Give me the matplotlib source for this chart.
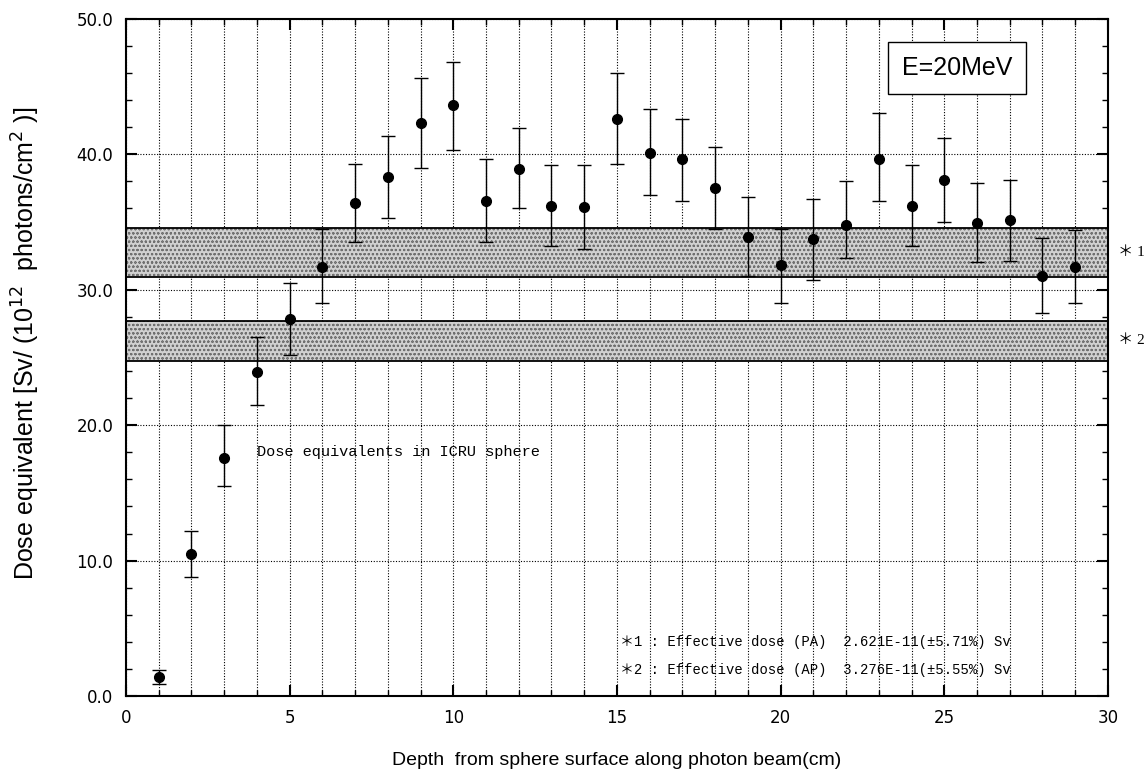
import matplotlib.pyplot as plt
import numpy as np
from matplotlib import font_manager
from matplotlib.ticker import MultipleLocator, FormatStrFormatter

# data
depth = [1, 2, 3, 4, 5, 6, 7, 8, 9, 10, 11, 12, 13, 14, 15,
         16, 17, 18, 19, 20, 21, 22, 23, 24, 25, 26, 27, 28, 29]
dose = [1.4, 10.5, 17.6, 23.9, 27.8, 31.7, 36.4, 38.3, 42.3, 43.6, 36.5, 38.9, 36.2, 36.1, 42.6,
        40.1, 39.6, 37.5, 33.9, 31.8, 33.7, 34.8, 39.6, 36.2, 38.1, 34.9, 35.1, 31.0, 31.7]
err_hi = [0.5, 1.7, 2.4, 2.6, 2.7, 2.8, 2.9, 3.0, 3.3, 3.2, 3.1, 3.0, 3.0, 3.1, 3.4,
          3.2, 3.0, 3.0, 2.9, 2.7, 3.0, 3.2, 3.4, 3.0, 3.1, 3.0, 3.0, 2.8, 2.7]
err_lo = [0.5, 1.7, 2.1, 2.4, 2.6, 2.7, 2.9, 3.0, 3.3, 3.3, 3.0, 2.9, 3.0, 3.1, 3.3,
          3.1, 3.1, 3.0, 2.9, 2.8, 3.0, 2.5, 3.1, 3.0, 3.1, 2.9, 3.0, 2.7, 2.7]

# effective dose bands (value, relative error), top band first
band_values = [(32.76, 0.0555), (26.21, 0.0571)]
band_labels = ["＊ 1", "＊ 2"]

legend_lines = [
    "＊1 : Effective dose (PA)  2.621E-11(±5.71%) Sv",
    "＊2 : Effective dose (AP)  3.276E-11(±5.55%) Sv",
]


def has_font(name):
    try:
        font_manager.findfont(name, fallback_to_default=False)
        return True
    except ValueError:
        return False


narrow = "Liberation Sans Narrow" if has_font("Liberation Sans Narrow") else "Liberation Sans"
plt.rcParams["hatch.linewidth"] = 0.5

fig = plt.figure(figsize=(11.45, 7.71), dpi=100)
ax = fig.add_axes([0.110, 0.097, 0.8576, 0.879])

ax.set_xlim(0, 30)
ax.set_ylim(0, 50)

# grid
ax.xaxis.set_major_locator(MultipleLocator(5))
ax.xaxis.set_minor_locator(MultipleLocator(1))
ax.yaxis.set_major_locator(MultipleLocator(10))
ax.yaxis.set_minor_locator(MultipleLocator(2))
ax.yaxis.set_major_formatter(FormatStrFormatter("%.1f"))
ax.grid(True, which="both", axis="x", linestyle=(0, (1, 1.5)), color="black", linewidth=0.8)
ax.grid(True, which="major", axis="y", linestyle=(0, (1, 1.5)), color="black", linewidth=0.8)
ax.set_axisbelow(True)

# shaded bands
for (val, rel), lab in zip(band_values, band_labels):
    lo, hi = val * (1 - rel), val * (1 + rel)
    ax.axhspan(lo, hi, facecolor="#d0d0d0", edgecolor="#707070", hatch="oooo",
               linewidth=0, zorder=1.5)
    ax.axhline(lo, color="black", linewidth=1.3, zorder=1.6)
    ax.axhline(hi, color="black", linewidth=1.3, zorder=1.6)
    ax.text(30.3, val, lab, va="center", ha="left", fontsize=11,
            family=["Liberation Serif", "Noto Sans CJK JP"])

ax.errorbar(depth, dose, yerr=[err_lo, err_hi], fmt="o", color="black",
            markersize=7, ecolor="black", elinewidth=1.0, capsize=5, capthick=1.0,
            zorder=3)

ax.tick_params(which="both", direction="in", top=True, right=True,
               labelsize=12, pad=9)
ax.tick_params(which="major", length=8, width=1.5)
ax.tick_params(which="minor", length=4, width=1.0)
for s in ax.spines.values():
    s.set_linewidth(1.5)

ax.set_xlabel("Depth  from sphere surface along photon beam(cm)", fontsize=14,
              family="Liberation Sans", labelpad=18)
ax.set_ylabel(r"Dose equivalent [Sv/ (10$^{12}$  photons/cm$^{2}$ )]", fontsize=18,
              family=narrow)
ax.yaxis.set_label_coords(-0.085, 0.52)

ax.text(4.0, 18.0, "Dose equivalents in ICRU sphere", fontsize=11,
        family="Liberation Mono", va="center")

ax.text(25.4, 46.35, "E=20MeV", fontsize=18, va="center", ha="center", family=narrow,
        bbox=dict(boxstyle="square,pad=0.55", facecolor="white", edgecolor="black", linewidth=1.0),
        zorder=4)

for i, line in enumerate(legend_lines):
    ax.text(15.1, 4.0 - i * 2.1, line, fontsize=10, va="center", ha="left",
            family=["Liberation Mono", "Noto Sans CJK JP"])

fig.savefig("out.png", dpi=100)
